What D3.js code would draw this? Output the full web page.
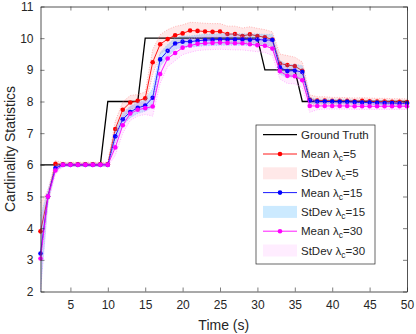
<!DOCTYPE html>
<html><head><meta charset="utf-8">
<script src="https://cdn.jsdelivr.net/npm/d3@7"></script>
<style>
html,body{margin:0;padding:0;background:#fff;}
svg{display:block;font-family:"Liberation Sans",Arial,Helvetica,sans-serif;}
</style></head>
<body>
<svg id="chart" width="416" height="334"></svg>
<script>
const time = [1,2,3,4,5,6,7,8,9,10,11,12,13,14,15,16,17,18,19,20,21,22,23,24,25,26,27,28,29,30,31,32,33,34,35,36,37,38,39,40,41,42,43,44,45,46,47,48,49,50];
const groundTruth = [6,6,6,6,6,6,6,6,6,8,8,8,8,8,10,10,10,10,10,10,10,10,10,10,10,10,10,10,10,10,9,9,9,9,9,8,8,8,8,8,8,8,8,8,8,8,8,8,8,8];
const mean5 = [3.9,5.0,6.03,6.02,6.02,6.02,6.02,6.02,6.02,6.02,7.13,7.74,7.97,8.02,8.1,9.24,9.81,9.97,10.09,10.15,10.24,10.23,10.21,10.2,10.21,10.13,10.13,10.07,10.12,10.07,10.03,9.96,9.2,9.15,9.12,8.97,8.06,8.03,8.03,8.02,8.02,8.02,8.01,8.02,8.01,8.0,8.0,7.99,7.99,7.98];
const std5 = [0.9,0.2,0.1,0.06,0.06,0.06,0.06,0.06,0.06,0.06,0.25,0.25,0.22,0.2,0.2,0.4,0.3,0.3,0.28,0.27,0.26,0.26,0.26,0.26,0.25,0.25,0.25,0.25,0.24,0.24,0.24,0.24,0.3,0.3,0.28,0.28,0.15,0.12,0.12,0.11,0.11,0.1,0.1,0.1,0.1,0.1,0.1,0.1,0.1,0.1];
const mean15 = [3.2,5.0,5.9,6.0,6.0,6.0,6.0,6.0,6.0,6.0,6.9,7.44,7.67,7.8,7.87,8.12,9.33,9.6,9.83,9.89,9.89,9.92,9.94,9.95,9.96,9.96,9.96,9.96,9.95,9.96,9.94,9.94,9.08,8.96,8.98,8.93,8.03,8.0,8.0,8.0,7.99,7.99,7.98,7.97,7.97,7.96,7.95,7.95,7.94,7.94];
const std15 = [1.2,0.2,0.1,0.05,0.05,0.05,0.05,0.05,0.05,0.05,0.2,0.2,0.18,0.18,0.18,0.3,0.22,0.2,0.18,0.18,0.18,0.18,0.18,0.18,0.18,0.18,0.18,0.18,0.18,0.18,0.18,0.18,0.22,0.2,0.2,0.2,0.1,0.07,0.07,0.07,0.07,0.07,0.07,0.07,0.07,0.07,0.07,0.07,0.07,0.07];
const mean30 = [3.04,5.0,5.82,6.0,6.0,6.0,6.0,6.0,6.0,6.0,6.55,7.25,7.62,7.74,7.79,7.84,8.87,9.36,9.53,9.7,9.77,9.82,9.84,9.85,9.86,9.85,9.84,9.84,9.81,9.78,9.76,9.67,8.96,8.81,8.8,8.67,7.86,7.86,7.86,7.86,7.86,7.86,7.85,7.85,7.85,7.85,7.85,7.85,7.85,7.85];
const std30 = [1.0,0.2,0.12,0.05,0.05,0.05,0.05,0.05,0.05,0.05,0.25,0.25,0.22,0.2,0.2,0.3,0.3,0.26,0.24,0.22,0.22,0.21,0.21,0.21,0.21,0.21,0.21,0.21,0.21,0.21,0.21,0.22,0.25,0.24,0.24,0.24,0.2,0.12,0.1,0.1,0.1,0.1,0.1,0.1,0.1,0.1,0.1,0.1,0.1,0.1];
const xTicks = [5,10,15,20,25,30,35,40,45,50];
const yTicks = [2,3,4,5,6,7,8,9,10,11];
const legendLabels = ["Ground Truth","Mean λ|c|=5","StDev λ|c|=5","Mean λ|c|=15","StDev λ|c|=15","Mean λ|c|=30","StDev λ|c|=30"];

const svg = d3.select("#chart");
const L = 40.5, R = 407, T = 6.5, B = 291.5;
const x = d3.scaleLinear().domain([1,50]).range([L,R]);
const y = d3.scaleLinear().domain([2,11]).range([B,T]);
const axisCol = "#262626";

const series = [
  {mean: mean5, std: std5, color: "#ff0000", fill: "#ff0000", fillOp: 0.09, edge: "#ff8080"},
  {mean: mean15, std: std15, color: "#0000ff", fill: "#0096ff", fillOp: 0.2, edge: "#7fb8ff"},
  {mean: mean30, std: std30, color: "#ff00ff", fill: "#ff00ff", fillOp: 0.07, edge: "#ff80ff"}
];

const plot = svg.append("g");
plot.append("path").datum(time)
  .attr("d", d3.line().x(d=>x(d)).y((d,i)=>y(groundTruth[i])))
  .attr("fill","none").attr("stroke","#000").attr("stroke-width",1.3);

series.forEach(s => {
  const area = d3.area().x(d=>x(d)).y0((d,i)=>y(s.mean[i]-s.std[i])).y1((d,i)=>y(s.mean[i]+s.std[i]));
  plot.append("path").datum(time).attr("d", area).attr("fill", s.fill).attr("fill-opacity", s.fillOp).attr("stroke","none");
  [1,-1].forEach(sg => {
    plot.append("path").datum(time)
      .attr("d", d3.line().x(d=>x(d)).y((d,i)=>y(s.mean[i]+sg*s.std[i])))
      .attr("fill","none").attr("stroke", s.edge).attr("stroke-width",0.8)
      .attr("stroke-dasharray","1,1.5").attr("stroke-opacity",0.7);
  });
  plot.append("path").datum(time)
    .attr("d", d3.line().x(d=>x(d)).y((d,i)=>y(s.mean[i])))
    .attr("fill","none").attr("stroke", s.color).attr("stroke-width",0.9);
  plot.selectAll(null).data(time).enter().append("circle")
    .attr("cx", d=>x(d)).attr("cy", (d,i)=>y(s.mean[i])).attr("r", 2.3).attr("fill", s.color);
});

// axes
const fmt = d3.format("d");
const gx = svg.append("g").attr("transform",`translate(0,${B})`)
  .call(d3.axisBottom(x).tickValues(xTicks).tickFormat(fmt).tickSizeInner(-4).tickSizeOuter(0).tickPadding(9));
const gxt = svg.append("g").attr("transform",`translate(0,${T})`)
  .call(d3.axisTop(x).tickValues(xTicks).tickFormat("").tickSizeInner(-4).tickSizeOuter(0));
const gy = svg.append("g").attr("transform",`translate(${L},0)`)
  .call(d3.axisLeft(y).tickValues(yTicks).tickFormat(fmt).tickSizeInner(-4).tickSizeOuter(0).tickPadding(7));
const gyr = svg.append("g").attr("transform",`translate(${R},0)`)
  .call(d3.axisRight(y).tickValues(yTicks).tickFormat("").tickSizeInner(-4).tickSizeOuter(0));
[gx,gxt,gy,gyr].forEach(g => {
  g.select(".domain").attr("stroke", axisCol).attr("stroke-width",0.8);
  g.selectAll(".tick line").attr("stroke", axisCol).attr("stroke-width",0.6);
  g.selectAll(".tick text").attr("fill", axisCol).attr("font-size", 12).attr("font-family","Liberation Sans, Arial, sans-serif");
});

svg.append("text").attr("x",(L+R)/2).attr("y",330).attr("text-anchor","middle")
  .attr("font-size",14).attr("fill",axisCol).text("Time (s)");
svg.append("text").attr("transform",`translate(15,${(T+B)/2}) rotate(-90)`).attr("text-anchor","middle")
  .attr("font-size",14).attr("fill",axisCol).text("Cardinality Statistics");

// legend
const lg = svg.append("g");
lg.append("rect").attr("x",256).attr("y",125).attr("width",119).attr("height",139)
  .attr("fill","#fff").attr("stroke","#262626").attr("stroke-width",0.7);
const kinds = ["gt","mean","std","mean","std","mean","std"];
legendLabels.forEach((lab,i) => {
  const cy = 134.7 + i*19.3;
  const si = Math.floor((i-1)/2);
  if (kinds[i]==="gt") {
    lg.append("line").attr("x1",263).attr("x2",297).attr("y1",cy).attr("y2",cy).attr("stroke","#000").attr("stroke-width",1.3);
  } else if (kinds[i]==="mean") {
    lg.append("line").attr("x1",263).attr("x2",297).attr("y1",cy).attr("y2",cy).attr("stroke",series[si].color).attr("stroke-width",0.9);
    lg.append("circle").attr("cx",280).attr("cy",cy).attr("r",2.3).attr("fill",series[si].color);
  } else {
    lg.append("rect").attr("x",263).attr("y",cy-6).attr("width",34).attr("height",12)
      .attr("fill",series[si].fill).attr("fill-opacity",series[si].fillOp);
  }
  const parts = lab.split("|");
  const t = lg.append("text").attr("x",301).attr("y",cy+4).attr("font-size",11.5).attr("fill",axisCol);
  if (parts.length===1) { t.text(lab); }
  else {
    t.append("tspan").text(parts[0]);
    t.append("tspan").attr("dy",3).attr("font-size",8.5).text(parts[1]);
    t.append("tspan").attr("dy",-3).text(parts[2]);
  }
});
</script>
</body></html>
